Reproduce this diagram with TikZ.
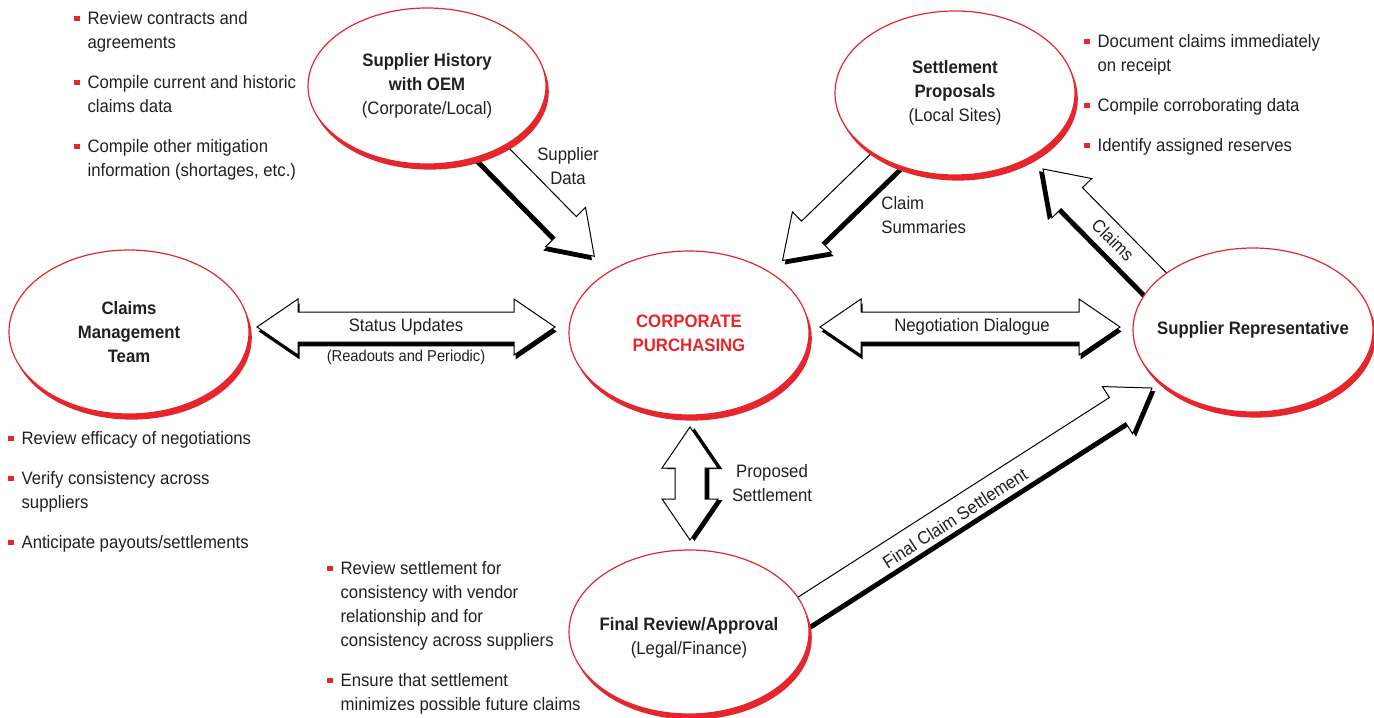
\documentclass[tikz,border=0pt]{standalone}
\usepackage{fontspec}
\setmainfont{Liberation Sans}[FakeStretch=0.93]
\usetikzlibrary{calc,shapes.geometric,shadows,backgrounds}

\definecolor{ringred}{RGB}{230,38,45}
\definecolor{inkgray}{RGB}{35,31,32}

\newcommand{\bul}{\textcolor{ringred}{\rule[1.7pt]{2.6pt}{2.6pt}}}

%% outlines of the block arrows (local frame, tip at \arrlen)
\newcommand{\singleshape}{(0pt,-7.5pt) -- (\arrlen pt-20.5pt,-7.5pt) -- (\arrlen pt-20.5pt,-14pt)
  -- (\arrlen pt,0pt) -- (\arrlen pt-20.5pt,14pt) -- (\arrlen pt-20.5pt,7.5pt) -- (0pt,7.5pt) -- cycle}
\newcommand{\doubleshape}{(0pt,0pt) -- (20.5pt,14pt) -- (20.5pt,7.5pt) -- (\arrlen pt-20.5pt,7.5pt)
  -- (\arrlen pt-20.5pt,14pt) -- (\arrlen pt,0pt) -- (\arrlen pt-20.5pt,-14pt)
  -- (\arrlen pt-20.5pt,-7.5pt) -- (20.5pt,-7.5pt) -- (20.5pt,-14pt) -- cycle}

%% block arrow: shape, shadow shift, from, to
\newcommand{\blockarrow}[4]{%
  \path let \p1=#3, \p2=#4 in \pgfextra{%
    \pgfmathsetmacro\baang{atan2((\y2)-(\y1),(\x2)-(\x1))}%
    \pgfmathsetmacro\balen{veclen((\x2)-(\x1),(\y2)-(\y1))}%
    \xdef\arrang{\baang}\xdef\arrlen{\balen}};
  \begin{scope}[shift={#3}, rotate=\arrang]
    \fill[black, shift={#2}] #1;
    \filldraw[fill=white, draw=black, line width=0.5pt] #1;
  \end{scope}}

\begin{document}
\begin{tikzpicture}[
  x=0.5pt, y=-0.5pt,
  font=\fontsize{9}{12}\selectfont,
  text=inkgray,
  party/.style={
    ellipse, draw=ringred, line width=0.6pt, fill=white,
    minimum width=120pt, minimum height=82pt, inner sep=0pt,
    drop shadow={shadow xshift=1.4pt, shadow yshift=-2.8pt, fill=ringred, opacity=1}
  },
  ptext/.style={align=center, inner sep=0pt, text=inkgray},
  note/.style={anchor=north west, inner sep=0pt},
  lbl/.style={inner sep=0pt, align=center},
  small/.style={font=\fontsize{7.9}{10}\selectfont},
]

\useasboundingbox (0,0) rectangle (1374,717);

%% Ellipses
\node[party, minimum width=119pt, minimum height=78pt,
  label={[ptext]center:\textbf{Supplier History}\\\textbf{with OEM}\\(Corporate/Local)}]
  (hist) at (427,86) {};
\node[party, label={[ptext]center:\textbf{Settlement}\\\textbf{Proposals}\\(Local Sites)}]
  (settle) at (955,93) {};
\node[party, label={[ptext]center:\textbf{Claims}\\\textbf{Management}\\\textbf{Team}}]
  (team) at (129,332) {};
\node[party, label={[ptext, text=ringred]center:\textbf{CORPORATE}\\\textbf{PURCHASING}}]
  (corp) at (689,333) {};
\node[party, label={[ptext]center:\textbf{Supplier Representative}}]
  (rep) at (1253,330) {};
\node[party, label={[ptext, yshift=-3pt]center:\textbf{Final Review/Approval}\\(Legal/Finance)}]
  (final) at (689,632) {};

%% Arrow ends
\coordinate (dataTip)    at ($(corp)+(-94,-76)$);
\coordinate (summTip)    at ($(corp)+(93,-72)$);
\coordinate (claimsFrom) at ($(rep)+(-70,-19)$);
\coordinate (claimsTip)  at ($(settle)+(88,76)$);
\coordinate (finalFrom)  at ($(final)+(84,-1)$);
\coordinate (finalTip)   at ($(rep)+(-101,58)$);
\coordinate (statusL)    at ($(team)+(128,-5)$);
\coordinate (statusR)    at ($(corp)+(-134,-6)$);
\coordinate (negoL)      at ($(corp)+(131,-6)$);
\coordinate (negoR)      at ($(rep)+(-133,-3)$);
\coordinate (propT)      at ($(corp)+(1,94)$);
\coordinate (propB)      at ($(final)+(1,-92)$);

%% Block arrows (behind the ellipses)
\begin{pgfonlayer}{background}
\blockarrow{\singleshape}{(0.6pt,-2.2pt)}{(hist)}{(dataTip)}
\blockarrow{\singleshape}{(0.6pt,2.2pt)}{(settle)}{(summTip)}
\blockarrow{\singleshape}{(0.6pt,2.2pt)}{(claimsFrom)}{(claimsTip)}
\blockarrow{\singleshape}{(0.6pt,-2.2pt)}{(finalFrom)}{(finalTip)}
\blockarrow{\doubleshape}{(0.8pt,-2.2pt)}{(statusL)}{(statusR)}
\blockarrow{\doubleshape}{(0.8pt,-2.2pt)}{(negoL)}{(negoR)}
\blockarrow{\doubleshape}{(0.6pt,2.2pt)}{(propT)}{(propB)}
\end{pgfonlayer}

%% Arrow labels
\node[lbl] (datalbl) at (568,166) {Supplier\\Data};
\node[lbl, align=left, anchor=west] (summlbl) at (881,215) {Claim\\Summaries};
\node[lbl] (statuslbl) at (406,327) {Status Updates};
\node[lbl, small] (readlbl) at (406,357) {(Readouts and Periodic)};
\node[lbl] (negolbl) at (972,327) {Negotiation Dialogue};
\node[lbl, rotate=-45] (claimslbl) at (1113,240) {Claims};
\node[lbl] (proplbl) at (772,483) {Proposed\\Settlement};
\node[lbl, rotate=33] (finallbl) at (955,518) {Final Claim Settlement};

%% Bullet notes
\node[note] (histnotes) at (74,7) {\begin{tabular}{@{}l@{\hspace{4pt}}l@{}}
  \bul & Review contracts and\\
       & agreements\\[8pt]
  \bul & Compile current and historic\\
       & claims data\\[8pt]
  \bul & Compile other mitigation\\
       & information (shortages, etc.)
\end{tabular}};
\node[note] (settlenotes) at (1084,30) {\begin{tabular}{@{}l@{\hspace{4pt}}l@{}}
  \bul & Document claims immediately\\
       & on receipt\\[8pt]
  \bul & Compile corroborating data\\[8pt]
  \bul & Identify assigned reserves
\end{tabular}};
\node[note] (teamnotes) at (8,427) {\begin{tabular}{@{}l@{\hspace{4pt}}l@{}}
  \bul & Review efficacy of negotiations\\[8pt]
  \bul & Verify consistency across\\
       & suppliers\\[8pt]
  \bul & Anticipate payouts/settlements
\end{tabular}};
\node[note] (finalnotes) at (327,557) {\begin{tabular}{@{}l@{\hspace{4pt}}l@{}}
  \bul & Review settlement for\\
       & consistency with vendor\\
       & relationship and for\\
       & consistency across suppliers\\[8pt]
  \bul & Ensure that settlement\\
       & minimizes possible future claims
\end{tabular}};

\end{tikzpicture}
\end{document}
